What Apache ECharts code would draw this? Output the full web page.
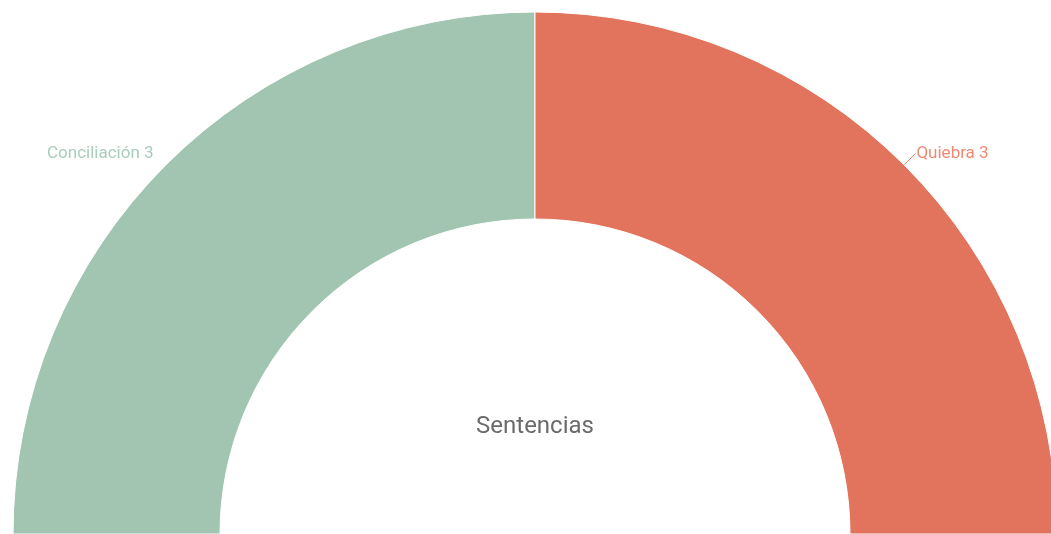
<!DOCTYPE html>
<html>
<head>
<meta charset="utf-8">
<script src="https://cdn.jsdelivr.net/npm/echarts@6/dist/echarts.min.js"></script>
<style>
  html, body { margin: 0; padding: 0; background: #ffffff; }
  #chart { width: 1051px; height: 534px; }
</style>
</head>
<body>
<div id="chart"></div>
<script>
const categories = ['Conciliación', 'Quiebra']
const values = [3, 3]
const colors = ['#a2c5b1', '#e2735c']
const labelColors = ['#a9cdbc', '#ef8a74']
const showLine = [false, true]
const centerTitle = 'Sentencias'

const chart = echarts.init(document.getElementById('chart'))

// media dona: una porción invisible ocupa la mitad inferior
const total = values.reduce((a, b) => a + b, 0)
const pieData = categories.map((name, i) => ({
  name: name,
  value: values[i],
  itemStyle: { color: colors[i] },
  label: { color: labelColors[i] },
  labelLine: { show: showLine[i], lineStyle: { color: labelColors[i] } },
}))
pieData.push({
  name: '',
  value: total,
  itemStyle: { color: 'none', borderWidth: 0 },
  label: { show: false },
  labelLine: { show: false },
  emphasis: { disabled: true },
  tooltip: { show: false },
})

chart.setOption({
  animation: false,
  graphic: [
    {
      type: 'text',
      x: 535,
      y: 427,
      style: {
        text: centerTitle,
        fontFamily: 'Roboto',
        fontSize: 24,
        fill: '#6b6b6b',
        textAlign: 'center',
        textVerticalAlign: 'middle',
      },
    },
  ],
  series: [
    {
      type: 'pie',
      center: [535, 534],
      radius: [315, 522],
      startAngle: 180,
      clockwise: true,
      avoidLabelOverlap: false,
      itemStyle: {
        borderColor: '#ffffff',
        borderWidth: 1,
      },
      label: {
        show: true,
        position: 'outside',
        formatter: '{b} {c}',
        fontFamily: 'Roboto',
        fontSize: 17,
        distanceToLabelLine: 1,
      },
      labelLine: {
        length: 16,
        length2: 0,
        smooth: false,
      },
      data: pieData,
    },
  ],
})
</script>
</body>
</html>
